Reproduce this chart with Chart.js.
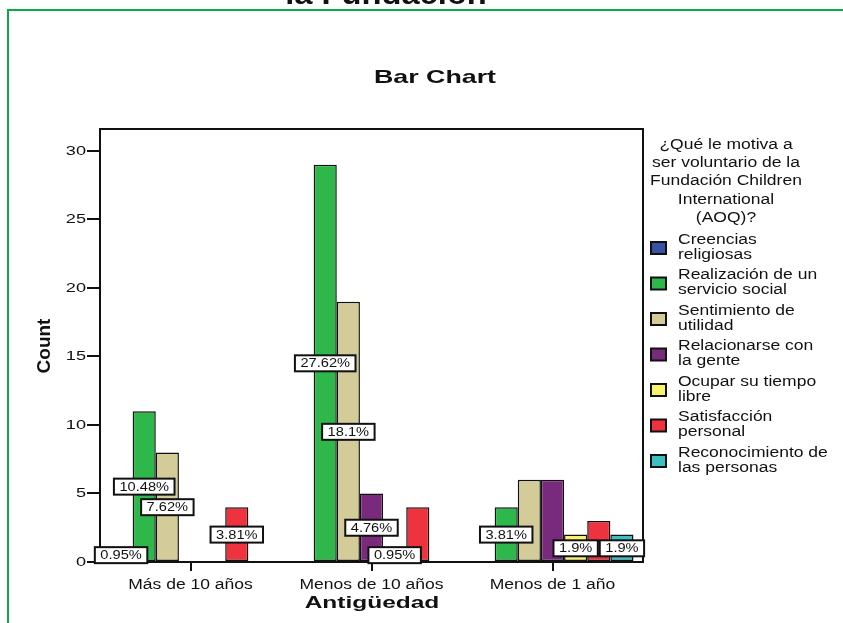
<!DOCTYPE html>
<html lang="es">
<head>
<meta charset="UTF-8">
<title>Antigüedad - Bar Chart</title>
<script src="https://cdn.jsdelivr.net/npm/chart.js"></script>
<style>
  html, body { margin: 0; padding: 0; background: #fff; }
  #wrap { width: 843px; height: 623px; position: relative; }
</style>
</head>
<body>
<div id="wrap"><canvas id="grafico" width="843" height="623"></canvas></div>
<script>
// Categorías (eje X) y series de la variable AOQ
const categorias = ["Más de 10 años", "Menos de 10 años", "Menos de 1 año"];
const series = [
  "Creencias religiosas",
  "Realización de un servicio social",
  "Sentimiento de utilidad",
  "Relacionarse con la gente",
  "Ocupar su tiempo libre",
  "Satisfacción personal",
  "Reconocimiento de las personas"
];
// Líneas del texto de la leyenda
const leyendaLineas = [
  ["Creencias", "religiosas"],
  ["Realización de un", "servicio social"],
  ["Sentimiento de", "utilidad"],
  ["Relacionarse con", "la gente"],
  ["Ocupar su tiempo", "libre"],
  ["Satisfacción", "personal"],
  ["Reconocimiento de", "las personas"]
];
const tituloLeyenda = ["¿Qué le motiva a", "ser voluntario de la", "Fundación Children", "International", "(AOQ)?"];

// Conteos por serie (Más de 10, Menos de 10, Menos de 1)
const creencias      = [1, 0, 0];
const realizacion    = [11, 29, 4];
const sentimiento    = [8, 19, 6];
const relacionarse   = [0, 5, 6];
const ocupar         = [0, 1, 2];
const satisfaccion   = [4, 4, 3];
const reconocimiento = [0, 0, 2];

// Etiquetas de porcentaje visibles (true = se dibuja)
const etiquetaVisible = [
  [true, false, false],
  [true, true, true],
  [true, true, false],
  [false, true, false],
  [false, true, true],
  [true, false, false],
  [false, false, true]
];

const yTicks = [0, 5, 10, 15, 20, 25, 30];
const colores = ["#3a52a4", "#2eb84b", "#d3cc98", "#7a2a7c", "#f8f36c", "#ee333f", "#3dbfc1"];

const valores = [creencias, realizacion, sentimiento, relacionarse, ocupar, satisfaccion, reconocimiento];
const total = valores.flat().reduce((a, b) => a + b, 0);
const FONT = '"Liberation Sans", Arial, sans-serif';

function pct(v) {
  return parseFloat((v / total * 100).toFixed(2)) + "%";
}

// texto con escala horizontal (la tipografía del gráfico es más ancha)
function texto(ctx, str, x, y, font, sx, align) {
  ctx.save();
  ctx.font = font;
  ctx.textAlign = align || "center";
  ctx.textBaseline = "middle";
  ctx.translate(x, y);
  ctx.scale(sx, 1);
  ctx.fillText(str, 0, 0);
  ctx.restore();
}

const dibujos = {
  id: "dibujos",
  afterDatasetsDraw(chart) {
    const ctx = chart.ctx;
    const area = chart.chartArea;
    const y = chart.scales.y;
    const x = chart.scales.x;
    ctx.save();

    // marco del gráfico (arriba y derecha)
    ctx.strokeStyle = "#111";
    ctx.lineWidth = 2;
    ctx.beginPath();
    ctx.moveTo(area.left, area.top);
    ctx.lineTo(area.right, area.top);
    ctx.lineTo(area.right, area.bottom);
    ctx.stroke();

    // etiquetas de los ejes
    ctx.fillStyle = "#111";
    yTicks.forEach(v => texto(ctx, String(v), 86, y.getPixelForValue(v) + 0.5, "12.5px " + FONT, 1.45, "right"));
    categorias.forEach((c, j) => texto(ctx, c, x.getPixelForValue(j), 585, "14px " + FONT, 1.25));

    // etiquetas de porcentaje en el centro de cada barra
    const fLab = "12.5px " + FONT;
    const sxLab = 1.17;
    chart.data.datasets.forEach((ds, i) => {
      const meta = chart.getDatasetMeta(i);
      meta.data.forEach((bar, j) => {
        if (!etiquetaVisible[i][j]) return;
        const v = ds.data[j];
        const txt = pct(v);
        const cy = y.getPixelForValue(v / 2);
        ctx.font = fLab;
        const w = ctx.measureText(txt).width * sxLab + 11;
        const h = 16;
        ctx.fillStyle = "#fff";
        ctx.fillRect(bar.x - w / 2, cy - h / 2, w, h);
        ctx.strokeStyle = "#111";
        ctx.lineWidth = 2;
        ctx.strokeRect(bar.x - w / 2, cy - h / 2, w, h);
        ctx.fillStyle = "#111";
        texto(ctx, txt, bar.x, cy + 0.5, fLab, sxLab);
      });
    });
    ctx.restore();
  },
  afterDraw(chart) {
    const ctx = chart.ctx;
    ctx.save();

    // borde verde del marco exterior
    ctx.strokeStyle = "#0aaa4a";
    ctx.lineWidth = 2;
    ctx.beginPath();
    ctx.moveTo(8, 623);
    ctx.lineTo(8, 10);
    ctx.lineTo(843, 10);
    ctx.stroke();

    ctx.fillStyle = "#111";
    ctx.save();
    ctx.font = "bold 30px " + FONT;
    ctx.textAlign = "center";
    ctx.textBaseline = "alphabetic";
    ctx.translate(386, 4);
    ctx.scale(1.09, 1);
    ctx.fillText("la Fundación", 0, 0);
    ctx.restore();

    texto(ctx, "Bar Chart", 435, 78, "bold 19px " + FONT, 1.41);
    texto(ctx, "Antigüedad", 372, 603, "bold 17px " + FONT, 1.44);

    ctx.save();
    ctx.translate(45, 346);
    ctx.rotate(-Math.PI / 2);
    ctx.font = "bold 19px " + FONT;
    ctx.textAlign = "center";
    ctx.textBaseline = "middle";
    ctx.fillText("Count", 0, 0);
    ctx.restore();

    // leyenda
    const fLey = "14px " + FONT;
    tituloLeyenda.forEach((t, k) => texto(ctx, t, 726, 145 + k * 18.3, fLey, 1.25));
    leyendaLineas.forEach((lineas, i) => {
      const cy = 247.5 + i * 35.5;
      ctx.fillStyle = colores[i];
      ctx.fillRect(651, cy - 5.5, 15, 12);
      ctx.strokeStyle = "#111";
      ctx.lineWidth = 2;
      ctx.strokeRect(651, cy - 5.5, 15, 12);
      ctx.fillStyle = "#111";
      texto(ctx, lineas[0], 678, cy - 7.5, fLey, 1.25, "left");
      texto(ctx, lineas[1], 678, cy + 7.5, fLey, 1.25, "left");
    });
    ctx.restore();
  }
};

new Chart(document.getElementById("grafico"), {
  type: "bar",
  data: {
    labels: categorias,
    datasets: series.map((nombre, i) => ({
      label: nombre,
      data: valores[i],
      backgroundColor: colores[i],
      borderColor: "#111",
      borderWidth: 1.5,
      borderSkipped: false,
      categoryPercentage: 0.895,
      barPercentage: 1
    }))
  },
  options: {
    responsive: false,
    animation: false,
    layout: { padding: { left: 0, right: 200, top: 129, bottom: 0 } },
    plugins: { legend: { display: false }, tooltip: { enabled: false }, title: { display: false } },
    scales: {
      x: {
        afterFit(scale) { scale.height = 61; },
        grid: { display: true, offset: false, drawOnChartArea: false, tickLength: 9, color: "#111", lineWidth: 2 },
        border: { display: true, color: "#111", width: 2 },
        ticks: { color: "rgba(0,0,0,0)", font: { family: FONT, size: 14 }, padding: 2 }
      },
      y: {
        min: 0,
        max: 31.6,
        afterFit(scale) { scale.width = 100; },
        afterBuildTicks(scale) { scale.ticks = yTicks.map(v => ({ value: v })); },
        grid: { display: true, drawOnChartArea: false, tickLength: 13, color: "#111", lineWidth: 2 },
        border: { display: true, color: "#111", width: 2 },
        ticks: { color: "rgba(0,0,0,0)", font: { family: FONT, size: 12 }, padding: 3 }
      }
    }
  },
  plugins: [dibujos]
});
</script>
</body>
</html>
